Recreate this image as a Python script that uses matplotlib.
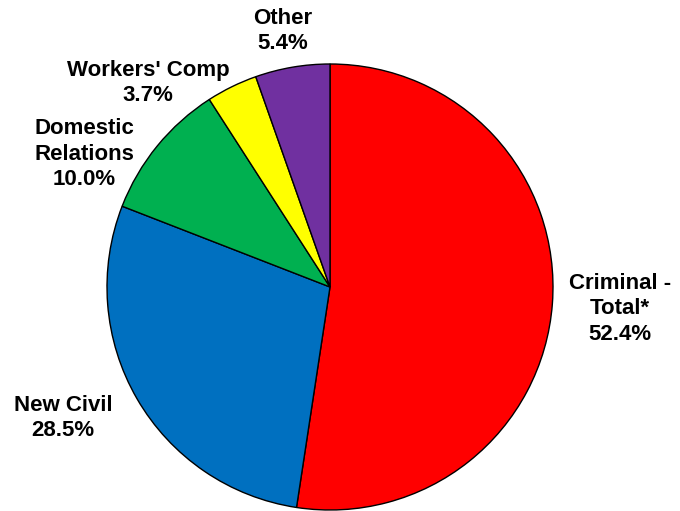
import matplotlib.pyplot as plt

categories = ["Criminal -\nTotal*", "New Civil", "Domestic\nRelations", "Workers' Comp", "Other"]
shares = [52.4, 28.5, 10.0, 3.7, 5.4]
colors = ["#FF0000", "#0070C0", "#00B050", "#FFFF00", "#7030A0"]

# label anchor points (pixel coords, y from top)
label_pos = [(620, 309), (63, 418), (84, 154), (148, 83), (283, 31)]

W, H = 680, 511
fig = plt.figure(figsize=(W / 100, H / 100), dpi=100)
ax = fig.add_axes([0, 0, 1, 1])

ax.pie(shares, colors=colors, startangle=90, counterclock=False,
       center=(330, H - 287), radius=223, frame=True,
       wedgeprops=dict(edgecolor="black", linewidth=1))
ax.set_xlim(0, W)
ax.set_ylim(0, H)
ax.set_aspect("equal")
ax.axis("off")

for name, val, (x, y) in zip(categories, shares, label_pos):
    ax.text(x, H - y, f"{name}\n{val:.1f}%", ha="center", va="center",
            fontsize=16, fontweight="bold", family="Liberation Sans",
            linespacing=1.3)

fig.savefig("out.png", dpi=100)
